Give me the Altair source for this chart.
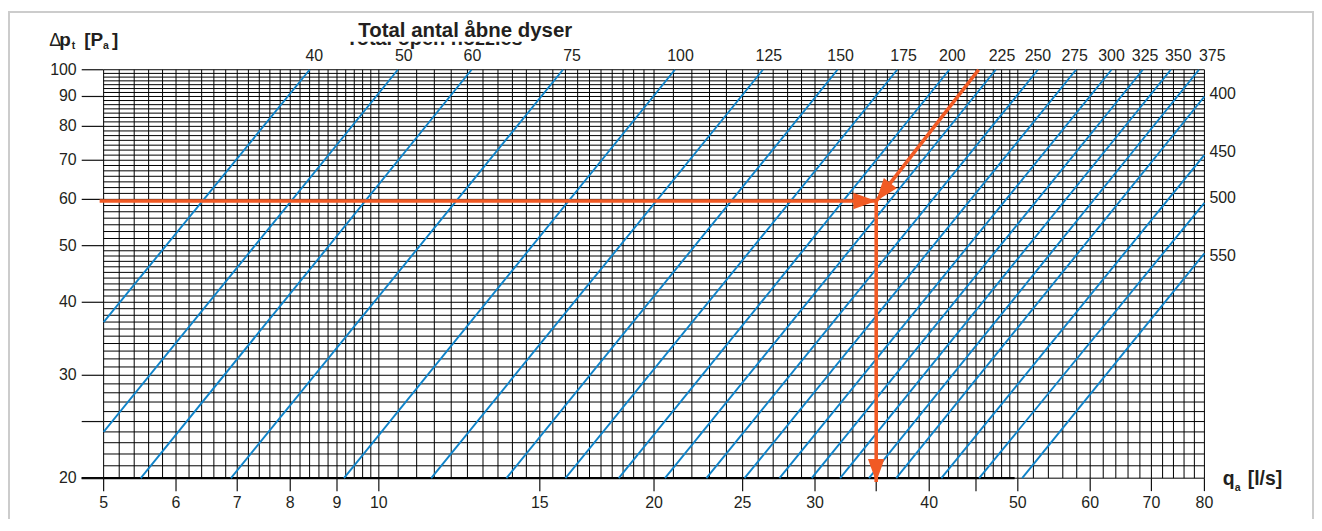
import altair as alt
import numpy as np
import pandas as pd

FONT = "Liberation Sans"
BLUE = "#0f83c9"
ORANGE = "#f15a24"
INK = "#231f20"

# ---- axes -----------------------------------------------------------------
x_ticks = [5, 6, 7, 8, 9, 10, 15, 20, 25, 30, 35, 40, 45, 50, 60, 70, 80]
x_tick_labels = ["5", "6", "7", "8", "9", "10", "15", "20", "25", "30", "", "40", "",
                 "50", "60", "70", "80"]
y_ticks = [20, 25, 30, 40, 50, 60, 70, 80, 90, 100]
y_tick_labels = ["20", "", "30", "40", "50", "60", "70", "80", "90", "100"]

# grid ruling: (start, stop, number of intervals)
x_grid_segments = [(5, 10, 25), (10, 20, 20), (20, 50, 30), (50, 80, 15)]
y_grid_segments = [(20, 50, 30), (50, 100, 35)]

# ---- blue nozzle lines (endpoints) -----------------------------------------
nozzles = [40, 50, 60, 75, 100, 125, 150, 175, 200, 225, 250, 275, 300, 325,
           350, 375, 400, 450, 500, 550]
q_start = [5.0, 5.0, 5.49, 6.89, 9.16, 11.41, 13.79, 16.0, 18.30, 20.56, 22.82,
           25.12, 27.43, 29.75, 31.96, 34.37, 36.81, 41.24, 45.36, 50.55]
p_start = [37.0, 24.0, 20, 20, 20, 20, 20, 20, 20, 20, 20,
           20, 20, 20, 20, 20, 20, 20, 20, 20]
q_end = [8.40, 10.49, 12.63, 15.90, 21.08, 26.31, 31.75, 36.9, 42.07, 47.3, 52.6,
         57.9, 63.3, 68.5, 73.5, 78.9, 80, 80, 80, 80]
p_end = [100, 100, 100, 100, 100, 100, 100, 100, 100, 100, 100,
         100, 100, 100, 100, 100, 90.0, 71.5, 59.2, 48.5]

# labels of the nozzle lines
top_labels = ["40", "50", "60", "75", "100", "125", "150", "175", "200", "225",
              "250", "275", "300", "325", "350", "375"]
top_label_q = [8.50, 10.65, 12.66, 16.27, 21.38, 26.71, 32.0, 37.5, 42.4, 48.05,
               52.6, 57.7, 63.3, 68.9, 74.9, 81.6]
right_labels = ["400", "450", "500", "550"]
right_label_p = [91.0, 72.3, 60.3, 48.0]

# ---- orange reading example ------------------------------------------------
seg_names = ["horizontal", "horizontal", "diagonal", "diagonal", "vertical", "vertical"]
seg_q = [4.95, 35.0, 45.3, 35.0, 35.0, 35.0]
seg_p = [59.6, 59.6, 100.0, 59.6, 59.6, 19.7]
head_q = [35.0, 35.0, 35.0]
head_p = [59.6, 59.6, 19.7]
head_angle = [0, 128.1, 90]

# thick base line along the 20 Pa rule
base_q = [4.73]
base_q2 = [49.6]
base_p = [20]


def grid_values(segments):
    vals = []
    for a, b, n in segments:
        vals.extend(np.round(np.linspace(a, b, n + 1), 4).tolist())
    return sorted(set(vals))


x_grid = grid_values(x_grid_segments)
y_grid = grid_values(y_grid_segments)

lines_rows = []
for n, qa, pa, qb, pb in zip(nozzles, q_start, p_start, q_end, p_end):
    lines_rows.append({"n": n, "q": qa, "p": pa})
    lines_rows.append({"n": n, "q": qb, "p": pb})
df_lines = pd.DataFrame(lines_rows)

df_top = pd.DataFrame({"label": top_labels, "q": top_label_q, "p": [100] * len(top_labels)})
df_right = pd.DataFrame({"label": right_labels, "q": [80] * len(right_labels), "p": right_label_p})
df_seg = pd.DataFrame({"seg": seg_names, "q": seg_q, "p": seg_p})
df_head = pd.DataFrame({"q": head_q, "p": head_p, "ang": head_angle})
df_base = pd.DataFrame({"q": base_q, "q2": base_q2, "p": base_p})
df_xt = pd.DataFrame({"q": x_ticks, "label": x_tick_labels})
df_yt = pd.DataFrame({"p": y_ticks, "label": y_tick_labels})

xs = alt.Scale(type="log", domain=[5, 80], nice=False)
ys = alt.Scale(type="log", domain=[20, 100], nice=False)
X = lambda f="q": alt.X(f"{f}:Q", scale=xs, axis=None)
Y = lambda f="p": alt.Y(f"{f}:Q", scale=ys, axis=None)

one = pd.DataFrame({"a": [0]})

border = alt.Chart(one).mark_rect(filled=False, color="#cccccc", strokeWidth=2).encode(
    x=alt.value(-95), x2=alt.value(1214), y=alt.value(-58), y2=alt.value(480))

vgrid = alt.Chart(pd.DataFrame({"q": x_grid})).mark_rule(color="#000", strokeWidth=1).encode(x=X())
hgrid = alt.Chart(pd.DataFrame({"p": y_grid})).mark_rule(color="#000", strokeWidth=1).encode(y=Y())

base_rule = alt.Chart(df_base).mark_rule(color="#000", strokeWidth=2.3).encode(
    x=X(), x2="q2:Q", y=Y())

# axis ticks and labels (drawn through the same scales)
x_tick_marks = alt.Chart(df_xt).mark_rule(color="#111", strokeWidth=1.2).encode(
    x=X(), y=alt.value(410), y2=alt.value(423))
x_tick_text = alt.Chart(df_xt).mark_text(font=FONT, fontSize=16, color=INK, align="center",
                                         baseline="alphabetic").encode(
    x=X(), y=alt.value(439.5), text="label:N")
y_tick_marks = alt.Chart(df_yt).mark_rule(color="#111", strokeWidth=1.2).encode(
    y=Y(), x=alt.value(-22), x2=alt.value(0))
y_tick_text = alt.Chart(df_yt).mark_text(font=FONT, fontSize=16, color=INK, align="right",
                                         baseline="middle").encode(
    y=Y(), x=alt.value(-27), text="label:N")

blue = alt.Chart(df_lines).mark_line(color=BLUE, strokeWidth=1.9).encode(
    x=X(), y=Y(), detail="n:N")

orange = alt.Chart(df_seg).mark_line(color=ORANGE, strokeWidth=3.6, strokeCap="butt").encode(
    x=X(), y=Y(), detail="seg:N")

heads = alt.Chart(df_head).mark_point(
    shape="M0,0L-1,-0.36L-1,0.36Z", filled=True, size=2116, color=ORANGE,
    opacity=1, strokeWidth=0).encode(
    x=X(), y=Y(), angle=alt.Angle("ang:Q", scale=None))

top_text = alt.Chart(df_top).mark_text(font=FONT, fontSize=16, color=INK, align="center",
                                       baseline="alphabetic", dy=-9).encode(
    x=X(), y=Y(), text="label:N")

right_text = alt.Chart(df_right).mark_text(font=FONT, fontSize=16, color=INK, align="left",
                                           baseline="middle", dx=5).encode(
    x=X(), y=Y(), text="label:N")


def label(text, x, y, size, bold=True, align="left"):
    return alt.Chart(one).mark_text(text=text, font=FONT, fontSize=size, color=INK,
                                    fontWeight="bold" if bold else "normal",
                                    align=align, baseline="alphabetic").encode(
        x=alt.value(x), y=alt.value(y))


hidden_title = label("Total open nozzles", 332, -24.5, 20, align="center")
mask = alt.Chart(one).mark_rect(color="white").encode(
    x=alt.value(236), x2=alt.value(431), y=alt.value(-46), y2=alt.value(-28))
title = label("Total antal åbne dyser", 363, -33, 20.5, align="center")

y_title = [
    label("Δ", -54.5, -24, 18, bold=False),
    label("p", -44.5, -24, 19),
    label("t", -32, -21, 10.5),
    label("[P", -19.5, -24, 19),
    label("a", -0.6, -21, 10.5),
    label("]", 8.5, -24, 19),
]
x_title = [
    label("q", 1123.5, 416.5, 19.5),
    label("a", 1135.5, 422.7, 10.5),
    label("[l/s]", 1148.5, 416.5, 19.5),
]

chart = alt.layer(
    border, vgrid, hgrid, base_rule, x_tick_marks, y_tick_marks, x_tick_text, y_tick_text,
    blue, orange, heads, top_text, right_text,
    hidden_title, mask, title, *y_title, *x_title
).properties(
    width=1105, height=410,
    padding={"left": 96, "top": 61, "right": 110, "bottom": 40},
    autosize=alt.AutoSizeParams(type="none"),
).configure_view(stroke=None)

chart.save("out.html", embed_options={"renderer": "svg", "actions": False})
